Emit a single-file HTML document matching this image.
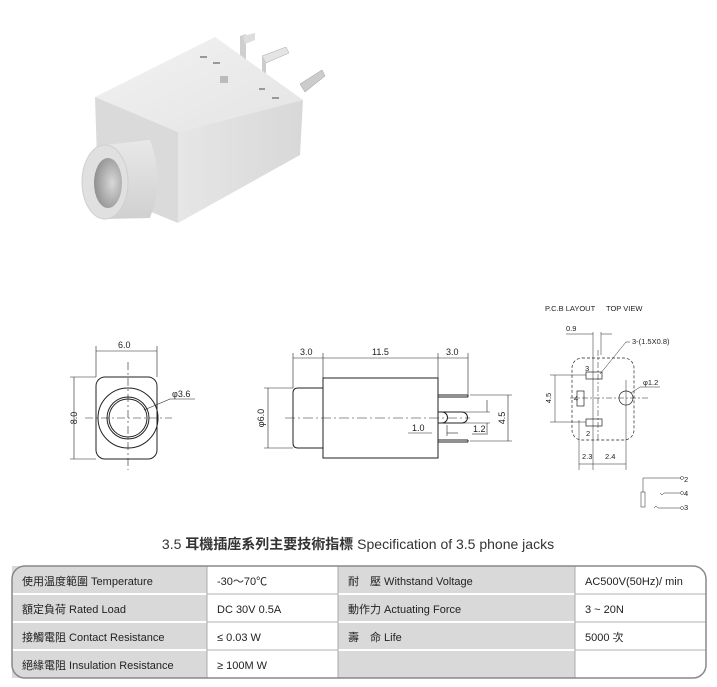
<!DOCTYPE html>
<html><head><meta charset="utf-8"><style>
body{margin:0;background:#fff;}
svg{display:block;font-family:"Liberation Sans","Noto Sans CJK TC",sans-serif;}
</style></head><body>
<svg width="717" height="687" viewBox="0 0 717 687" xmlns="http://www.w3.org/2000/svg">
<defs>
<linearGradient id="gt" x1="0" y1="0" x2="1" y2="1"><stop offset="0" stop-color="#f2f2f2"/><stop offset="1" stop-color="#e4e4e4"/></linearGradient>
<linearGradient id="gr" x1="0" y1="0" x2="1" y2="0"><stop offset="0" stop-color="#e6e6e6"/><stop offset="1" stop-color="#d8d8d8"/></linearGradient>
<linearGradient id="cyl" x1="0" y1="0" x2="0" y2="1"><stop offset="0" stop-color="#e8e8e8"/><stop offset="1" stop-color="#d0d0d0"/></linearGradient>
<radialGradient id="hole" cx="0.65" cy="0.5" r="0.7"><stop offset="0" stop-color="#d8d8d8"/><stop offset="1" stop-color="#8a8a8a"/></radialGradient>
</defs>
<!-- 3D render -->
<g>
<polygon points="240,36 246,34 246,62 240,64" fill="#cfcfcf"/>
<polygon points="243,36 255,33 255,40 245,44" fill="#ddd"/>
<polygon points="262,56 286,47 289,53 266,63" fill="#e4e4e4" stroke="#aaa" stroke-width="0.5"/>
<polygon points="262,56 266,63 266,85 262,80" fill="#ccc"/>
<polygon points="300,84 322,70 325,76 305,92" fill="#ccc" stroke="#999" stroke-width="0.5"/>
<polygon points="95,97 215,37 303,100 178,132" fill="url(#gt)"/>
<polygon points="178,132 303,100 300,155 178,223" fill="url(#gr)"/>
<polygon points="95,97 178,132 178,223 98,190" fill="#dadada"/>
<path d="M105,145 L150,140 Q165,180 150,218 L105,219 Z" fill="url(#cyl)"/>
<ellipse cx="105" cy="182" rx="23" ry="37" fill="#e0e0e0" stroke="#cfcfcf"/>
<ellipse cx="108" cy="183" rx="14" ry="25" fill="url(#hole)"/>
<rect x="220" y="76" width="8" height="7" fill="#bbb"/>
<rect x="200" y="56" width="7" height="2" fill="#999"/>
<rect x="213" y="62" width="7" height="2" fill="#999"/>
<rect x="259" y="88" width="6" height="2" fill="#999"/>
<rect x="272" y="97" width="7" height="2" fill="#999"/>
</g>
<!-- front view -->
<g stroke="#222" fill="none" stroke-width="1">
<rect x="96" y="377" width="61" height="82" rx="9"/>
<circle cx="128" cy="418" r="30"/>
<circle cx="128" cy="418" r="21"/>
<circle cx="128" cy="418" r="19"/>
<g stroke-width="0.6">
<line x1="96" y1="346" x2="96" y2="377"/><line x1="157" y1="346" x2="157" y2="377"/>
<line x1="96" y1="351" x2="157" y2="351"/>
<line x1="70" y1="377" x2="96" y2="377"/><line x1="70" y1="459" x2="96" y2="459"/>
<line x1="74" y1="377" x2="74" y2="459"/>
<line x1="144" y1="410" x2="170" y2="399"/><line x1="170" y1="399" x2="195" y2="399"/>
<line x1="128" y1="362" x2="128" y2="470" stroke-dasharray="8,3,2,3"/>
<line x1="85" y1="418" x2="172" y2="418" stroke-dasharray="8,3,2,3"/>
</g>
</g>
<g font-size="9" fill="#222">
<text x="118" y="348">6.0</text>
<text x="172" y="397">φ3.6</text>
<text x="71" y="424" transform="rotate(-90 71 418)" text-anchor="middle">8.0</text>
</g>
<!-- side view -->
<g stroke="#222" fill="none" stroke-width="1">
<rect x="323" y="378" width="115" height="80"/>
<path d="M323,388 H298 Q293,388 293,393 V443 Q293,448 298,448 H323"/>
<line x1="438" y1="395" x2="468" y2="395"/><line x1="438" y1="397" x2="468" y2="397"/>
<line x1="468" y1="395" x2="468" y2="397"/>
<line x1="438" y1="440" x2="468" y2="440"/><line x1="438" y1="442" x2="468" y2="442"/>
<line x1="468" y1="440" x2="468" y2="442"/>
<path d="M438,412 H462 A5.5,5.5 0 0 1 462,423 H438"/>
<path d="M438,412 H442 A5.5,5.5 0 0 1 442,423 H438"/>
<g stroke-width="0.6">
<line x1="293" y1="353" x2="293" y2="388"/><line x1="323" y1="353" x2="323" y2="378"/>
<line x1="438" y1="353" x2="438" y2="378"/><line x1="468" y1="353" x2="468" y2="395"/>
<line x1="293" y1="358" x2="468" y2="358"/>
<line x1="264" y1="388" x2="293" y2="388"/><line x1="264" y1="448" x2="293" y2="448"/>
<line x1="268" y1="388" x2="268" y2="448"/>
<line x1="285" y1="418" x2="470" y2="418" stroke-dasharray="10,3,2,3"/>
<line x1="470" y1="395" x2="512" y2="395"/><line x1="470" y1="441" x2="512" y2="441"/>
<line x1="508" y1="395" x2="508" y2="441"/>
<line x1="463" y1="412" x2="490" y2="412"/><line x1="463" y1="423" x2="490" y2="423"/>
<line x1="487" y1="400" x2="487" y2="412"/><line x1="487" y1="423" x2="487" y2="435"/>
<line x1="408" y1="433" x2="432" y2="433"/>
<line x1="447" y1="425" x2="447" y2="436"/><line x1="447" y1="433" x2="458" y2="433"/>
<line x1="472" y1="434" x2="486" y2="434"/>
</g>
</g>
<g font-size="9" fill="#222">
<text x="300" y="355">3.0</text>
<text x="372" y="355">11.5</text>
<text x="446" y="355">3.0</text>
<text x="412" y="431">1.0</text>
<text x="473" y="432">1.2</text>
<text x="264" y="418" transform="rotate(-90 264 418)" text-anchor="middle">φ6.0</text>
<text x="505" y="418" transform="rotate(-90 505 418)" text-anchor="middle">4.5</text>
</g>
<!-- PCB layout -->
<g font-size="7.5" fill="#222">
<text x="545" y="311">P.C.B LAYOUT</text>
<text x="606" y="311">TOP VIEW</text>
<text x="566" y="331">0.9</text>
<text x="632" y="344">3-(1.5X0.8)</text>
<text x="643" y="385">φ1.2</text>
<text x="585" y="371">3</text>
<text x="574" y="401">4</text>
<text x="586" y="436">2</text>
<text x="582" y="459">2.3</text>
<text x="605" y="459">2.4</text>
<text x="551" y="398" transform="rotate(-90 551 398)" text-anchor="middle">4.5</text>
<text x="684" y="482">2</text>
<text x="684" y="496">4</text>
<text x="684" y="510">3</text>
</g>
<g stroke="#222" fill="none" stroke-width="0.7">
<rect x="572" y="358" width="62" height="82" rx="10" stroke-dasharray="3,2"/>
<rect x="586" y="372" width="16" height="7"/>
<rect x="577" y="391" width="7" height="15"/>
<rect x="586" y="419" width="16" height="7"/>
<circle cx="626" cy="398" r="7"/>
<g stroke-width="0.5">
<line x1="593" y1="332" x2="593" y2="470"/><line x1="601" y1="332" x2="601" y2="355"/>
<line x1="566" y1="334" x2="593" y2="334"/><line x1="601" y1="334" x2="612" y2="334"/>
<line x1="570" y1="398" x2="648" y2="398" stroke-dasharray="6,2,2,2"/>
<line x1="598" y1="350" x2="598" y2="440" stroke-dasharray="6,2,2,2"/>
<line x1="626" y1="380" x2="626" y2="470"/><line x1="579" y1="420" x2="579" y2="470"/>
<line x1="579" y1="464" x2="626" y2="464"/>
<line x1="550" y1="375" x2="586" y2="375"/><line x1="550" y1="422" x2="586" y2="422"/>
<line x1="555" y1="375" x2="555" y2="422"/>
<line x1="600" y1="374" x2="626" y2="342"/><line x1="626" y1="342" x2="630" y2="342"/>
<line x1="631" y1="393" x2="640" y2="387"/><line x1="640" y1="387" x2="660" y2="387"/>
<line x1="643" y1="478" x2="681" y2="478"/><line x1="643" y1="478" x2="643" y2="492"/>
<rect x="641" y="492" width="4" height="15"/>
<path d="M660,493 l2,2 l2,-2 H680"/>
<path d="M654,508 l2,-2 l2,2 H680"/>
<circle cx="682" cy="478" r="1.5"/><circle cx="682" cy="493" r="1.5"/><circle cx="682" cy="508" r="1.5"/>
</g>
</g>
<!-- title -->
<text x="358" y="549" text-anchor="middle" font-size="14" fill="#333">3.5 <tspan font-weight="bold">耳機插座系列主要技術指標</tspan> Specification of 3.5 phone jacks</text>
<!-- table -->
<g>
<rect x="12" y="566" width="195" height="112" fill="#d9d9d9"/>
<rect x="338" y="566" width="237" height="112" fill="#d9d9d9"/>
<g stroke="#fff" stroke-width="2">
<line x1="12" y1="594" x2="706" y2="594"/><line x1="12" y1="622" x2="706" y2="622"/><line x1="12" y1="650" x2="706" y2="650"/>
</g>
<g stroke="#999" stroke-width="0.8">
<line x1="207" y1="566" x2="207" y2="678"/><line x1="338" y1="566" x2="338" y2="678"/><line x1="575" y1="566" x2="575" y2="678"/>
<line x1="207" y1="594" x2="338" y2="594"/><line x1="207" y1="622" x2="338" y2="622"/><line x1="207" y1="650" x2="338" y2="650"/>
<line x1="575" y1="594" x2="706" y2="594"/><line x1="575" y1="622" x2="706" y2="622"/><line x1="575" y1="650" x2="706" y2="650"/>
</g>
<rect x="12" y="566" width="694" height="112" rx="13" fill="none" stroke="#888" stroke-width="1.5"/>
</g>
<g font-size="11" fill="#222">
<text x="22" y="585">使用温度範圍 Temperature</text>
<text x="22" y="613">額定負荷  Rated Load</text>
<text x="22" y="641">接觸電阻  Contact Resistance</text>
<text x="22" y="669">絕緣電阻  Insulation Resistance</text>
<text x="217" y="585">-30～70℃</text>
<text x="217" y="613">DC  30V  0.5A</text>
<text x="217" y="641">≤ 0.03 W</text>
<text x="217" y="669">≥ 100M W</text>
<text x="348" y="585">耐　壓  Withstand Voltage</text>
<text x="348" y="613">動作力  Actuating Force</text>
<text x="348" y="641">壽　命  Life</text>
<text x="585" y="585">AC500V(50Hz)/ min</text>
<text x="585" y="613">3 ~ 20N</text>
<text x="585" y="641">5000 次</text>
</g>
</svg>
</body></html>
